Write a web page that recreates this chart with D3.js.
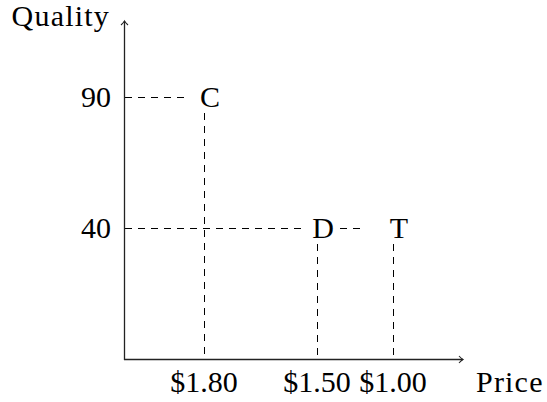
<!DOCTYPE html>
<html>
<head>
<meta charset="utf-8">
<script src="https://cdn.jsdelivr.net/npm/d3@7/dist/d3.min.js"></script>
<style>
  html, body { margin: 0; padding: 0; background: #fff; }
  svg { display: block; }
  text { font-family: "Liberation Serif", "Times New Roman", serif; font-size: 30px; fill: #000; }
  text.title { letter-spacing: 1.2px; }
</style>
</head>
<body>
<svg id="chart" width="547" height="402"></svg>
<script>
// ---- data ----
const products = ["C", "D", "T"];
const prices = [1.80, 1.50, 1.00];
const qualities = [90, 40, 40];
const priceTickValues = [1.80, 1.50, 1.00];
const priceTickLabels = ["$1.80", "$1.50", "$1.00"];
const qualityTickValues = [90, 40];
const xTitle = "Price";
const yTitle = "Quality";

// ---- layout ----
const origin = { x: 124, y: 359 };
const axisEndX = 463, axisEndY = 21;

// schematic (piecewise) scales, as in the reference figure
const x = d3.scaleLinear().domain([1.80, 1.50, 1.00]).range([204, 317, 393]);
const y = d3.scaleLinear().domain([0, 40, 90]).range([origin.y, 228, 97]);

const svg = d3.select("#chart");
const pts = products.map((p, i) => ({ name: p, price: prices[i], quality: qualities[i] }));

const dash = "7 6";
const labelDx = 6;
const nodeHalfW = 20, nodeHalfH = 16;
const h = 0.5; // crisp 1px lines

// horizontal dashed guides: axis -> node -> node (same quality)
const byQ = d3.group(pts, d => d.quality);
const hSegs = [];
for (const [q, arr] of byQ) {
  const sorted = arr.slice().sort((a, b) => x(a.price) - x(b.price));
  let start = origin.x + 1;
  sorted.forEach((d, i) => {
    const cx = x(d.price) + labelDx;
    let end = cx - nodeHalfW;
    if (i > 0) end = cx - nodeHalfW - 16;
    hSegs.push({ x1: start, x2: end, y: y(q) });
    start = cx + nodeHalfW - 3;
  });
}
svg.append("g").selectAll("line").data(hSegs).join("line")
  .attr("x1", d => d.x1).attr("x2", d => d.x2)
  .attr("y1", d => d.y + h).attr("y2", d => d.y + h)
  .attr("stroke", "#000").attr("stroke-width", 1)
  .attr("stroke-dasharray", dash);

// vertical dashed guides: node -> axis
svg.append("g").selectAll("line").data(pts).join("line")
  .attr("x1", d => x(d.price) + h).attr("x2", d => x(d.price) + h)
  .attr("y1", d => y(d.quality) + nodeHalfH).attr("y2", origin.y)
  .attr("stroke", "#000").attr("stroke-width", 1)
  .attr("stroke-dasharray", dash);

// node labels
svg.append("g").selectAll("text").data(pts).join("text")
  .attr("x", d => x(d.price) + labelDx)
  .attr("y", d => y(d.quality) + 10)
  .attr("text-anchor", "middle")
  .text(d => d.name);

// axes
const axisColor = "#222";
svg.append("line").attr("x1", origin.x).attr("y1", origin.y + h).attr("x2", axisEndX).attr("y2", origin.y + h)
  .attr("stroke", axisColor).attr("stroke-width", 1.3);
svg.append("line").attr("x1", origin.x + h).attr("y1", origin.y + 1).attr("x2", origin.x + h).attr("y2", axisEndY)
  .attr("stroke", axisColor).attr("stroke-width", 1.3);
// arrow heads (open chevrons)
const ay = origin.y + h, ax = origin.x + h;
svg.append("path")
  .attr("d", `M${axisEndX - 4},${ay - 3.5} Q${axisEndX - 1.5},${ay - 0.8} ${axisEndX},${ay} Q${axisEndX - 1.5},${ay + 0.8} ${axisEndX - 4},${ay + 3.5}`)
  .attr("fill", "none").attr("stroke", axisColor).attr("stroke-width", 1.1);
svg.append("path")
  .attr("d", `M${ax - 3.5},${axisEndY + 4} Q${ax - 0.8},${axisEndY + 1.5} ${ax},${axisEndY} Q${ax + 0.8},${axisEndY + 1.5} ${ax + 3.5},${axisEndY + 4}`)
  .attr("fill", "none").attr("stroke", axisColor).attr("stroke-width", 1.1);

// tick labels
svg.append("g").selectAll("text").data(priceTickValues).join("text")
  .attr("x", d => x(d)).attr("y", 392)
  .attr("text-anchor", "middle")
  .text((d, i) => priceTickLabels[i]);
svg.append("g").selectAll("text").data(qualityTickValues).join("text")
  .attr("x", origin.x - 13).attr("y", d => y(d) + 10)
  .attr("text-anchor", "end")
  .text(d => d);

// axis titles
svg.append("text").attr("class", "title").attr("x", 476).attr("y", 392).text(xTitle);
svg.append("text").attr("class", "title").attr("x", 110).attr("y", 26).attr("text-anchor", "end").text(yTitle);
</script>
</body>
</html>
